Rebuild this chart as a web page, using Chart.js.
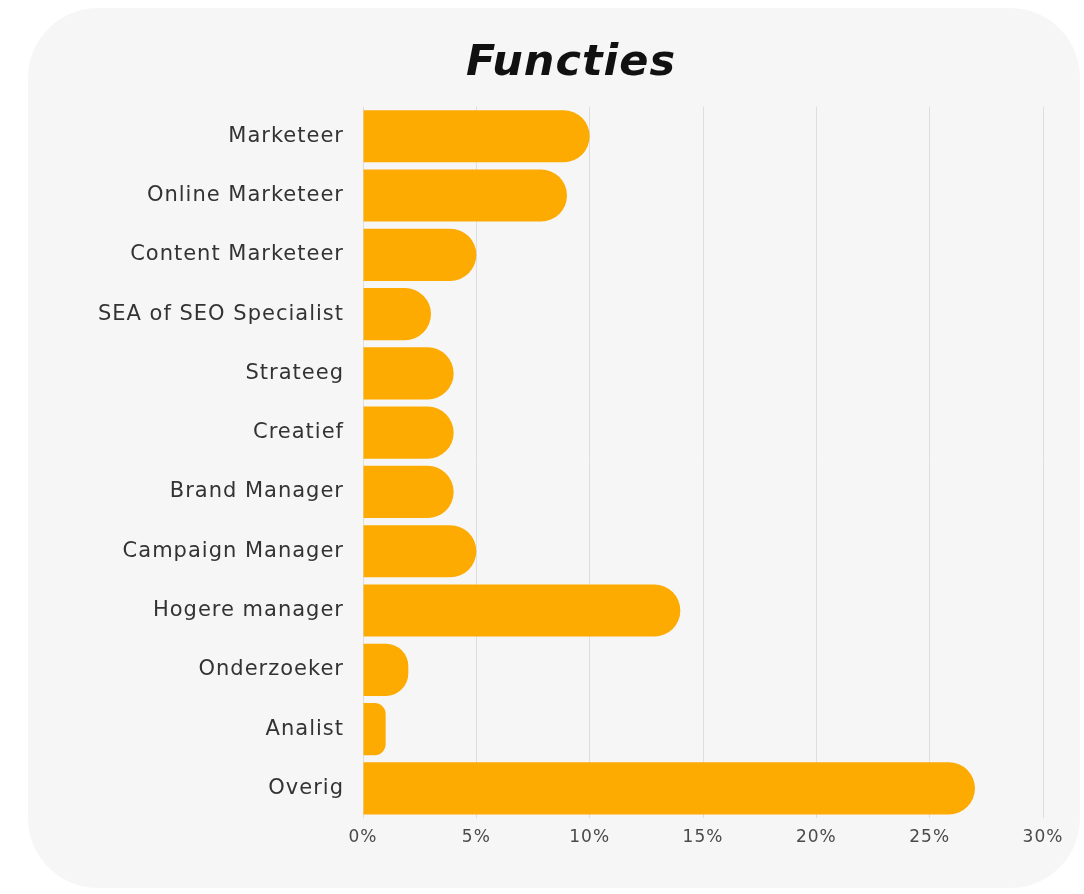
<!DOCTYPE html>
<html>
<head>
<meta charset="utf-8">
<script src="https://cdn.jsdelivr.net/npm/chart.js@4"></script>
<style>
  html, body { margin: 0; padding: 0; background: #ffffff; }
  body { width: 1084px; height: 894px; position: relative; overflow: hidden; }
  .card {
    position: absolute; left: 28px; top: 8px; width: 1052px; height: 880px;
    background: #f6f6f6; border-radius: 70px;
  }
  #chart { position: absolute; left: 0; top: 0; }
</style>
</head>
<body>
<div class="card"></div>
<canvas id="chart" width="1084" height="894"></canvas>
<script>
// Functies – aandeel per functie (%)
const categories = [
  "Marketeer", "Online Marketeer", "Content Marketeer", "SEA of SEO Specialist",
  "Strateeg", "Creatief", "Brand Manager", "Campaign Manager",
  "Hogere manager", "Onderzoeker", "Analist", "Overig"
];
const values = [10, 9, 5, 3, 4, 4, 4, 5, 14, 2, 1, 27];
const xTicks = [0, 5, 10, 15, 20, 25, 30];

const labelFont = "'DejaVu Sans', sans-serif";

// wat extra letterafstand, de labels lopen breed
const spacing = {
  id: "spacing",
  beforeDraw(chart) { chart.ctx.letterSpacing = "1px"; }
};

new Chart(document.getElementById("chart"), {
  type: "bar",
  data: {
    labels: categories,
    datasets: [{
      data: values,
      backgroundColor: "#fdab00",
      borderRadius: 40,
      borderSkipped: "start",
      barPercentage: 0.88,
      categoryPercentage: 1
    }]
  },
  plugins: [spacing],
  options: {
    indexAxis: "y",
    responsive: false,
    animation: false,
    layout: { padding: { left: 99, right: 41, top: 0, bottom: 0 } },
    plugins: {
      legend: { display: false },
      tooltip: { enabled: false },
      title: {
        display: true,
        text: "Functies",
        color: "#111111",
        font: { family: labelFont, size: 43, weight: "bold", style: "italic", lineHeight: 1.2 },
        padding: { top: 38, bottom: 17 }
      }
    },
    scales: {
      x: {
        min: xTicks[0],
        max: xTicks[xTicks.length - 1],
        afterBuildTicks: axis => { axis.ticks = xTicks.map(v => ({ value: v })); },
        afterFit: axis => { axis.height = 76; },
        grid: { color: "#dedede", lineWidth: 1, drawTicks: false },
        border: { display: false },
        ticks: {
          padding: 9,
          color: "#4a4a4a",
          font: { family: labelFont, size: 17 },
          callback: v => v + "%"
        }
      },
      y: {
        afterFit: axis => { axis.width = 264; },
        grid: { display: false },
        border: { display: false },
        ticks: {
          padding: 11,
          color: "#333333",
          font: { family: labelFont, size: 21 }
        }
      }
    }
  }
});
</script>
</body>
</html>
